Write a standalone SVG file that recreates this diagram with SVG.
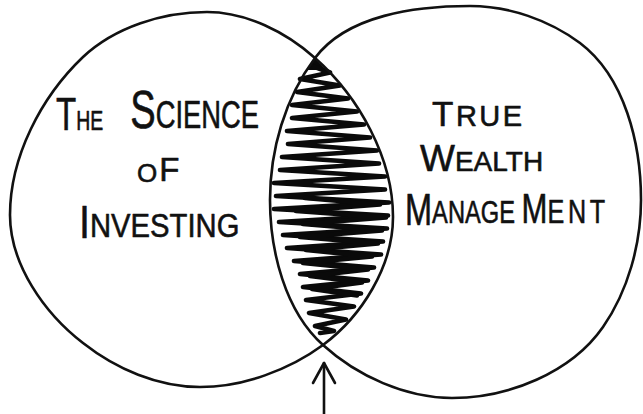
<svg xmlns="http://www.w3.org/2000/svg" width="643" height="414" viewBox="0 0 643 414">
<style>
.outline{fill:none;stroke:#111;stroke-width:2.6;stroke-linejoin:round;stroke-linecap:round}
.scribble{fill:none;stroke:#0a0a0a;stroke-width:4.6;stroke-linejoin:round;stroke-linecap:round}
.hand{font-family:"Liberation Sans",Arial,sans-serif;fill:#111;stroke:#111;stroke-width:0.6;stroke-linejoin:round}
.arrow{fill:none;stroke:#111;stroke-width:2.6;stroke-linecap:round;stroke-linejoin:round}
</style>
<defs>
<marker id="openhead" markerUnits="userSpaceOnUse" markerWidth="26" markerHeight="26" refX="21" refY="12" orient="auto" overflow="visible">
<path d="M1,1 L21,12 L1,23" class="arrow"/>
</marker>
</defs>
<rect width="643" height="414" fill="#ffffff"/>
<g id="overlap">
<path d="M315,58 L307,70 L326,70 Z" fill="#0a0a0a"/>
<path class="scribble" d="M312,66 L330,72.5 L300,79 L340,85.5 L297,92 L348,98.5 L292,105 L357,111.5 L292,118 L364,124.5 L287,131 L370,137.5 L288,144 L377,150.5 L282,157 L379,163.5 L280,170 L385,176.5 L274,183 L385,189.5 L276,196 L389,202.5 L274,209 L388,215.5 L279,222 L387,228.5 L283,235 L383,241.5 L287,248 L381,254.5 L294,261 L374,267.5 L300,274 L368,280.5 L303,287 L361,293.5 L306,300 L354,306.5 L309,313 L346,319.5 L315,326 L334,331 L320,333"/>
<path class="scribble" d="M305,198 L380,204.5 L296,211 L386,217.5 L303,224 L382,230.5 L300,237 L378,243.5 L306,250 L372,256.5 L303,263 L368,269.5 L310,276 L362,282.5 L312,289 L357,295.5"/>
</g>
<g id="circle-left">
<path class="outline" d="M207,12 C246,12 286,32 315,58 C359,97 393,158 393,217 C393,266 362,316 323,345 C289,370 243,387 200,387 C158,387 116,369 83,343 C44,313 10,264 10,215 C10,157 41,97 83,57 C115,27 163,12 207,12 Z"/>
<text class="hand" font-size="27" transform="translate(56,130) scale(0.72,1)"><tspan font-size="46">T</tspan><tspan>HE</tspan> <tspan dx="30" dy="-2" font-size="53">S</tspan><tspan font-size="38">CIENCE</tspan></text>
<text class="hand" font-size="26" transform="translate(137,182)"><tspan>O</tspan><tspan dx="2" dy="-1" font-size="33">F</tspan></text>
<text class="hand" font-size="34" transform="translate(79,238) scale(0.86,1)"><tspan font-size="46">I</tspan><tspan dy="-1">NVESTING</tspan></text>
</g>
<g id="circle-right">
<path class="outline" d="M470,6 C509,6 549,20 580,43 C625,77 641,144 641,200 C641,244 628,291 603,327 C571,373 508,398 452,398 C406,398 357,376 323,345 C285,311 270,251 270,200 C270,150 285,98 315,58 C347,15 416,6 470,6 Z"/>
<text class="hand" font-size="29" letter-spacing="2.5" transform="translate(432,126)"><tspan font-size="35">T</tspan><tspan>RUE</tspan></text>
<text class="hand" font-size="28" transform="translate(420,171)"><tspan font-size="37">W</tspan><tspan>EALTH</tspan></text>
<text class="hand" font-size="32" transform="translate(405,225) scale(0.74,1)"><tspan font-size="44">M</tspan><tspan dy="-2">ANAGE</tspan><tspan dx="9" font-size="42">M</tspan><tspan font-size="34" letter-spacing="5">ENT</tspan></text>
</g>
<g id="connectors">
<path class="arrow" d="M324,416 L324,363" marker-end="url(#openhead)"/>
</g>
</svg>
